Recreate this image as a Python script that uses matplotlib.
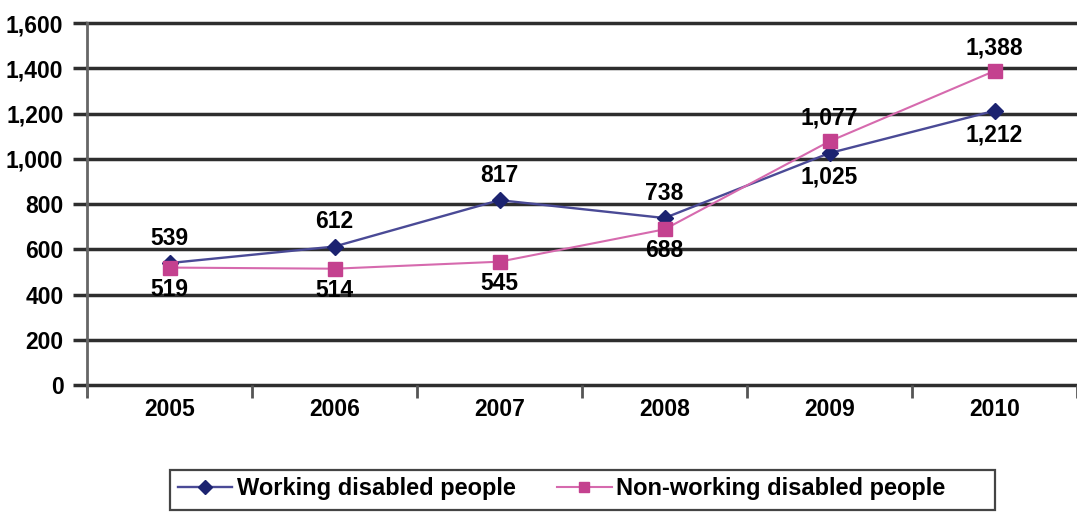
import matplotlib
matplotlib.use("Agg")
import matplotlib.pyplot as plt
from matplotlib.patches import Rectangle

years = ["2005", "2006", "2007", "2008", "2009", "2010"]
working = [539, 612, 817, 738, 1025, 1212]
non_working = [519, 514, 545, 688, 1077, 1388]
working_label_pos = ["above", "above", "above", "above", "below", "below"]
non_working_label_pos = ["below", "below", "below", "below", "above", "above"]
yticks = [0, 200, 400, 600, 800, 1000, 1200, 1400, 1600]

plt.rcParams["font.family"] = ["Liberation Sans", "DejaVu Sans"]

W, H = 1077, 512
fig = plt.figure(figsize=(W / 100, H / 100), dpi=100)
ax = fig.add_axes([87 / W, 1 - 385 / H, (1077 - 87) / W, (385 - 23) / H])

x = list(range(len(years)))
grid_col = "#2e2e2e"
for v in yticks:
    ax.axhline(v, color=grid_col, lw=2.5, zorder=1, clip_on=False)

ax.set_xlim(-0.5, -0.5 + (1077 - 87) / 166.5)
ax.set_ylim(0, 1600)

blue_line = "#4a4a96"
blue_mark = "#1c2370"
pink_line = "#d66aae"
pink_mark = "#c4418f"

ax.plot(x, working, color=blue_line, lw=1.7, marker="D", ms=8.5,
        mfc=blue_mark, mec=blue_mark, zorder=3, label="Working disabled people")
ax.plot(x, non_working, color=pink_line, lw=1.5, marker="s", ms=9.5,
        mfc=pink_mark, mec=pink_mark, zorder=3, label="Non-working disabled people")

fs = 16.5
for xi, v, pos in zip(x, working, working_label_pos):
    off = 18 if pos == "above" else -17.5
    ax.annotate(f"{v:,}", (xi, v), xytext=(0, off), textcoords="offset points",
                ha="center", va="center", fontsize=fs, fontweight="bold", zorder=4)
for xi, v, pos in zip(x, non_working, non_working_label_pos):
    off = 16.5 if pos == "above" else -15.5
    ax.annotate(f"{v:,}", (xi, v), xytext=(0, off), textcoords="offset points",
                ha="center", va="center", fontsize=fs, fontweight="bold", zorder=4)

ax.set_yticks(yticks)
ax.set_yticklabels([f"{v:,}" for v in yticks], fontsize=fs, fontweight="bold")
ax.tick_params(axis="y", length=10, width=2.5, color=grid_col, pad=7)

ax.set_xticks(x)
ax.set_xticklabels(years, fontsize=fs, fontweight="bold")
ax.tick_params(axis="x", length=0, pad=9)
ax.set_xticks([i + 0.5 for i in range(-1, len(years))], minor=True)
ax.tick_params(axis="x", which="minor", length=9, width=2, color="#555555")

for s in ["top", "right"]:
    ax.spines[s].set_visible(False)
ax.spines["bottom"].set_visible(False)
ax.spines["left"].set_color("#666666")
ax.spines["left"].set_linewidth(2)
ax.spines["left"].set_bounds(-40, 1600)

leg = fig.legend(loc="center left", bbox_to_anchor=(170 / W, 1 - 489 / H),
                 borderaxespad=0, ncol=2, frameon=False, handlelength=2.3,
                 handletextpad=0.2, columnspacing=1.75, borderpad=0.34,
                 prop={"weight": "bold", "size": 17})
for h in leg.legend_handles:
    h.set_markersize(7)

fig.patches.append(Rectangle((170 / W, 1 - 510 / H), (995 - 170) / W, 40 / H,
                             transform=fig.transFigure, fill=False,
                             edgecolor="#444444", lw=1.6))

fig.savefig("out.png", dpi=100)
